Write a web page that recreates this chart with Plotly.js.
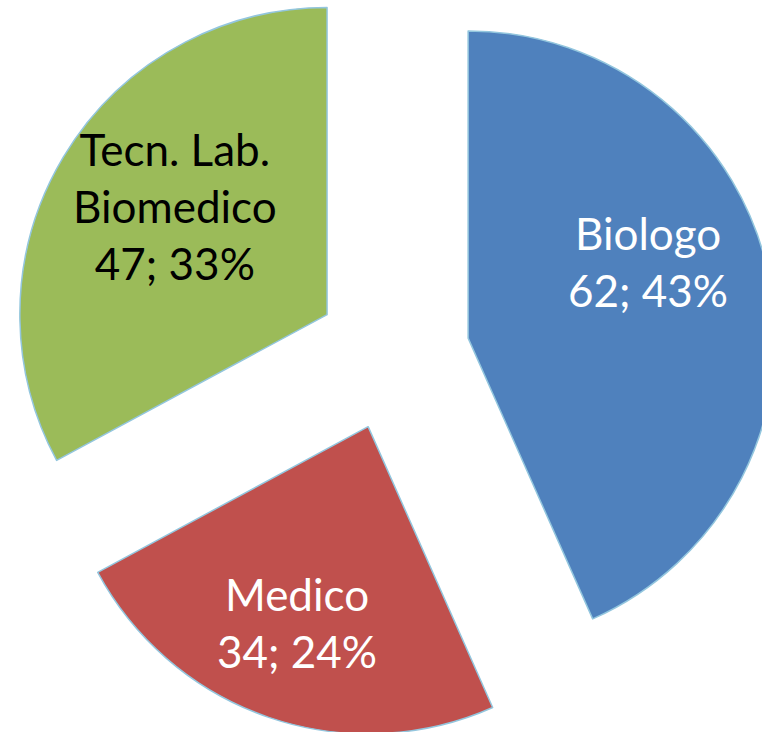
<!DOCTYPE html>
<html>
<head>
<meta charset="utf-8">
<script src="https://cdn.plot.ly/plotly-3.0.1.min.js"></script>
<style>
html, body { margin: 0; padding: 0; width: 762px; height: 732px; overflow: hidden; background: #ffffff; }
#chart { position: absolute; left: 9px; top: -30px; width: 768px; height: 768px; }
</style>
</head>
<body>
<div id="chart"></div>
<script>
const categories = ["Biologo", "Medico", "Tecn. Lab.<br>Biomedico"];
const values = [62, 34, 47];
const sliceColors = ["#4F81BD", "#C0504D", "#9BBB59"];
const labelColors = ["#ffffff", "#ffffff", "#000000"];

// label anchor positions (paper coordinates) – layout only
const labelPos = [[0.832, 0.620], [0.375, 0.150], [0.216, 0.693]];

const total = values.reduce((a, b) => a + b, 0);

const trace = {
  type: "pie",
  labels: categories,
  values: values,
  sort: false,
  direction: "clockwise",
  rotation: 0,
  pull: [0.25, 0.25, 0.25],
  marker: { colors: sliceColors, line: { color: "#93C6DE", width: 1.5 } },
  textinfo: "none",
  textposition: "none",
  hoverinfo: "none",
  showlegend: false
};

const annotations = categories.map((c, i) => ({
  xref: "paper", yref: "paper",
  x: labelPos[i][0], y: labelPos[i][1],
  xanchor: "center", yanchor: "middle",
  showarrow: false,
  align: "center",
  text: c + "<br>" + values[i] + "; " + Math.round(values[i] / total * 100) + "%",
  font: { family: "Lato, 'Open Sans', sans-serif", size: 44, color: labelColors[i] }
}));

const layout = {
  width: 768,
  height: 768,
  margin: { l: 0, r: 0, t: 0, b: 0, pad: 0 },
  paper_bgcolor: "rgba(0,0,0,0)",
  plot_bgcolor: "rgba(0,0,0,0)",
  showlegend: false,
  annotations: annotations
};

Plotly.newPlot("chart", [trace], layout, { displayModeBar: false, staticPlot: true });
</script>
</body>
</html>
